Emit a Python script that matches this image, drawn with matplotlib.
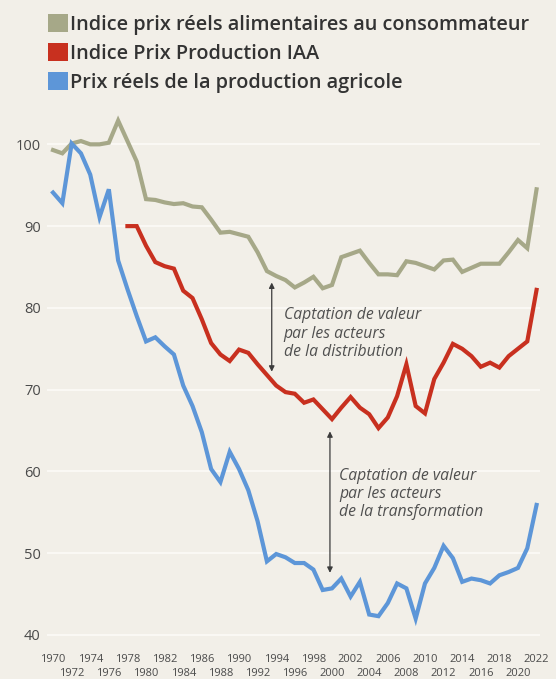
import matplotlib
matplotlib.use("Agg")
import matplotlib.pyplot as plt
from matplotlib.patches import Patch

plt.rcParams['font.family'] = ['Open Sans', 'DejaVu Sans']

# indices, base 100 en 1972
years = list(range(1970, 2023))
conso = [99.3, 98.9, 100.1, 100.4, 100.0, 100.0, 100.2, 102.9, 100.4, 97.9,
         93.3, 93.2, 92.9, 92.7, 92.8, 92.4, 92.3, 90.8, 89.2, 89.3,
         89.0, 88.7, 86.8, 84.5, 83.9, 83.4, 82.5, 83.1, 83.8, 82.4,
         82.8, 86.2, 86.6, 87.0, 85.5, 84.1, 84.1, 84.0, 85.7, 85.5,
         85.1, 84.7, 85.8, 85.9, 84.4, 84.9, 85.4, 85.4, 85.4, 86.8,
         88.3, 87.3, 94.5]
iaa_years = list(range(1978, 2023))
iaa = [90.0, 90.0, 87.6, 85.6, 85.1, 84.8, 82.1, 81.2, 78.6, 75.7,
       74.3, 73.5, 74.9, 74.5, 73.1, 71.8, 70.5, 69.7, 69.5, 68.4,
       68.8, 67.6, 66.4, 67.8, 69.1, 67.8, 67.0, 65.3, 66.6, 69.2,
       73.1, 68.0, 67.1, 71.3, 73.3, 75.6, 75.0, 74.1, 72.8, 73.3,
       72.7, 74.1, 75.0, 75.9, 82.2]
agri = [94.1, 92.8, 100.1, 98.9, 96.3, 91.1, 94.5, 85.8, 82.3, 79.0,
        75.9, 76.4, 75.3, 74.3, 70.5, 68.0, 64.8, 60.3, 58.7, 62.4,
        60.3, 57.7, 53.9, 49.0, 49.9, 49.5, 48.8, 48.8, 48.0, 45.5,
        45.7, 46.9, 44.7, 46.5, 42.5, 42.3, 43.9, 46.3, 45.7, 42.0,
        46.3, 48.2, 50.9, 49.4, 46.5, 46.9, 46.7, 46.3, 47.3, 47.7,
        48.2, 50.6, 55.9]

labels = ["Indice prix réels alimentaires au consommateur",
          "Indice Prix Production IAA",
          "Prix réels de la production agricole"]
colors = ["#A6A888", "#C8301F", "#5D96D8"]
bg = "#F2EFE8"

fig = plt.figure(figsize=(5.56, 6.79), dpi=100, facecolor=bg)
ax = fig.add_axes([47/556, 0.0564, 493/556, 0.7792], facecolor=bg)

ax.plot(years, conso, color=colors[0], lw=3.0, solid_joinstyle='miter', zorder=3)
ax.plot(iaa_years, iaa, color=colors[1], lw=3.0, solid_joinstyle='miter', zorder=3)
ax.plot(years, agri, color=colors[2], lw=3.0, solid_joinstyle='miter', zorder=3)

ax.set_xlim(1969.35, 2022.37)
ax.set_ylim(39.3, 104)
ax.set_yticks(range(40, 101, 10))
# deux rangees d'annees : majeures en haut, mineures en dessous
ax.set_xticks(range(1970, 2023, 4))
ax.set_xticks(range(1972, 2023, 4), minor=True)
ax.set_xticklabels([str(y) for y in range(1970, 2023, 4)])
ax.set_xticklabels([str(y) for y in range(1972, 2023, 4)], minor=True)
ax.tick_params(axis='x', which='major', length=0, pad=9.5, labelsize=8, labelcolor='#4a4a4a')
ax.tick_params(axis='x', which='minor', length=0, pad=20, labelsize=8, labelcolor='#4a4a4a')
ax.tick_params(axis='y', length=0, pad=4.5, labelsize=10.5, labelcolor='#4a4a4a')
ax.grid(axis='y', color='#FBFAF6', lw=1.3, zorder=0)
for s in ax.spines.values():
    s.set_visible(False)

# fleches de captation de valeur
arrow = dict(arrowstyle='<|-|>', color='#3c3c3c', lw=0.9, mutation_scale=8, shrinkA=0, shrinkB=0)
ax.annotate('', xy=(1993.52, 83.1), xytext=(1993.52, 72.2), arrowprops=arrow, zorder=4)
ax.annotate('', xy=(1999.78, 64.9), xytext=(1999.78, 47.6), arrowprops=arrow, zorder=4)
ax.text(1994.8, 76.86, "Captation de valeur\npar les acteurs\nde la distribution",
        style='italic', fontsize=11.3, color='#505050', va='center', ha='left', linespacing=1.2)
ax.text(2000.75, 57.24, "Captation de valeur\npar les acteurs\nde la transformation",
        style='italic', fontsize=11.3, color='#505050', va='center', ha='left', linespacing=1.2)

handles = [Patch(facecolor=c, edgecolor='none') for c in colors]
fig.legend(handles, labels, loc='upper left', bbox_to_anchor=(40/556, 1 - 6/679),
           frameon=False, handlelength=1.0, handleheight=1.0,
           handletextpad=0.12, labelspacing=0.42, borderaxespad=0,
           prop={'weight': 'semibold', 'size': 14.3}, labelcolor='#333333')

fig.savefig("out.png", dpi=100, facecolor=bg)
